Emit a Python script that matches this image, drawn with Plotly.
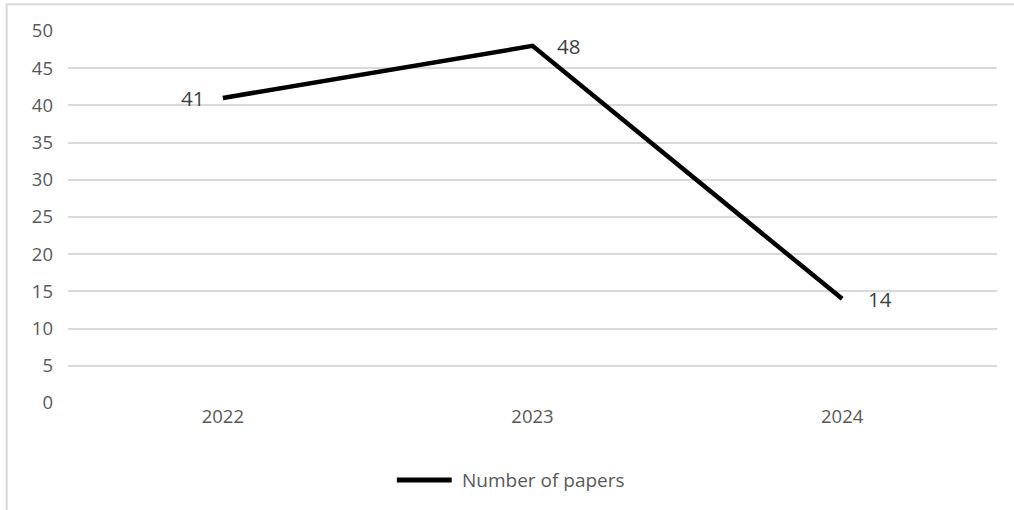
import plotly.graph_objects as go

years = ["2022", "2023", "2024"]
papers = [41, 48, 14]
label_anchor = ["right", "left", "left"]
label_shift = [-17, 22, 24]
y_ticks = [0, 5, 10, 15, 20, 25, 30, 35, 40, 45, 50]
series_name = "Number of papers"

fig = go.Figure()
fig.add_trace(go.Scatter(
    x=years, y=papers, mode="lines",
    name=series_name,
    line=dict(color="black", width=4.5),
    showlegend=False,
))

annotations = [
    dict(x=i, y=yv, xref="x", yref="y", text=str(yv), showarrow=False,
         xanchor=a, yanchor="middle", xshift=s,
         font=dict(family="Open Sans", size=20.5, color="#404040"))
    for i, (yv, a, s) in enumerate(zip(papers, label_anchor, label_shift))
]
# custom legend entry
annotations.append(dict(x=0.422, y=-0.207, xref="paper", yref="paper", text=series_name,
                        showarrow=False, xanchor="left", yanchor="middle",
                        font=dict(family="Open Sans", size=19, color="#595959")))

fig.update_layout(
    width=1014, height=510,
    margin=dict(l=68, r=17, t=31, b=107, autoexpand=False),
    paper_bgcolor="white", plot_bgcolor="white",
    font=dict(family="Open Sans", color="#595959", size=18),
    showlegend=False,
    xaxis=dict(type="category", range=[-0.5, 2.5], showgrid=False, showline=False,
               zeroline=False, ticks="", tickfont=dict(size=18.5)),
    yaxis=dict(range=[0, 50], tickvals=y_ticks, showgrid=True, gridcolor="#d9d9d9",
               gridwidth=1.5, zeroline=False, showline=False, ticks="",
               ticklabelstandoff=14, tickfont=dict(size=18.5)),
    annotations=annotations,
    shapes=[
        dict(type="rect", xref="paper", yref="paper",
             x0=-0.066, x1=1.06, y0=-0.4, y1=1.072,
             line=dict(color="#d9d9d9", width=2), fillcolor="rgba(0,0,0,0)",
             layer="below"),
        dict(type="line", xref="paper", yref="paper",
             x0=0.354, x1=0.413, y0=-0.207, y1=-0.207,
             line=dict(color="black", width=5)),
    ],
)
fig.write_html("out.html")
